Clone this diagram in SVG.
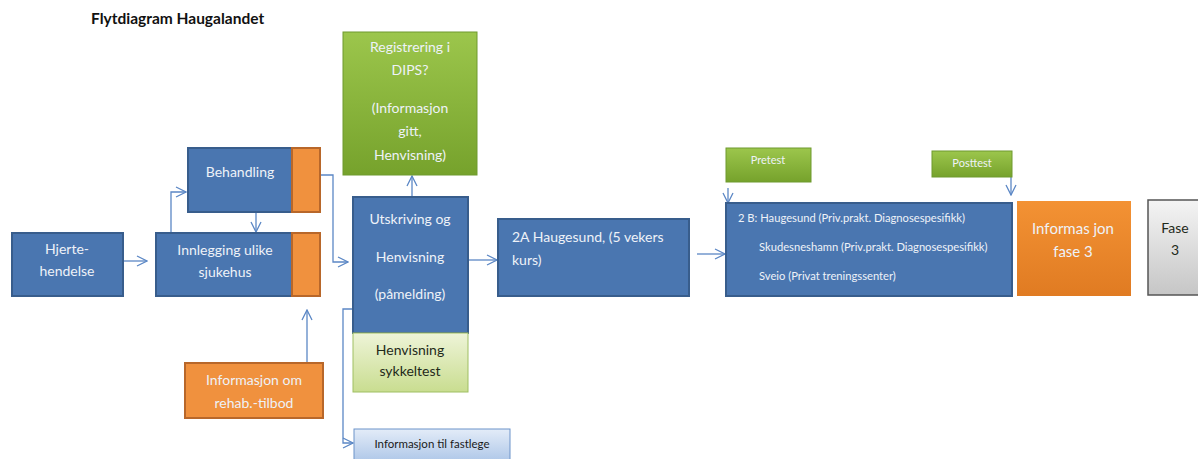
<svg xmlns="http://www.w3.org/2000/svg" width="1198" height="459" viewBox="0 0 1198 459">
<defs>
<linearGradient id="gGreen" x1="0" y1="0" x2="0" y2="1"><stop offset="0" stop-color="#9cc64c"/><stop offset="1" stop-color="#76a22c"/></linearGradient>
<linearGradient id="gLight" x1="0" y1="0" x2="0" y2="1"><stop offset="0" stop-color="#eef4d8"/><stop offset="1" stop-color="#c9dd90"/></linearGradient>
<linearGradient id="gGray" x1="0" y1="0" x2="0" y2="1"><stop offset="0" stop-color="#f4f4f4"/><stop offset="1" stop-color="#c6c6c6"/></linearGradient>
<linearGradient id="gOrange" x1="0" y1="0" x2="0" y2="1"><stop offset="0" stop-color="#f39234"/><stop offset="1" stop-color="#e07b22"/></linearGradient>
<linearGradient id="gPale" x1="0" y1="0" x2="0" y2="1"><stop offset="0" stop-color="#e3ecf8"/><stop offset="1" stop-color="#a9c3e6"/></linearGradient>
<marker id="arr" viewBox="0 0 12 12" refX="11" refY="6" markerWidth="12" markerHeight="12" markerUnits="userSpaceOnUse" orient="auto">
<path d="M1,1 L11,6 L1,11" fill="none" stroke="#5b87c5" stroke-width="1.3"/>
</marker>
</defs>
<style>
.blue{fill:#4a76b0;stroke:#385d8c;stroke-width:2}
.orange{fill:#f0913e;stroke:#b8672a;stroke-width:2}
.t{font-family:Lato,"Open Sans",sans-serif;font-size:14px;fill:#eef2f8;text-anchor:middle}
.ts{font-family:Lato,"Open Sans",sans-serif;font-size:11.2px;fill:#eef2f8}
.td{font-family:Lato,"Open Sans",sans-serif;font-size:14px;fill:#1f2a1a;text-anchor:middle}
.c{fill:none;stroke:#5b87c5;stroke-width:1.3}
</style>
<rect width="1198" height="459" fill="#ffffff"/>
<text x="91" y="24" font-family="Lato,'Open Sans',sans-serif" font-size="15.5" font-weight="bold" fill="#111">Flytdiagram Haugalandet</text>

<g id="connectors">
<path class="c" d="M123,261 H147" marker-end="url(#arr)"/>
<path class="c" d="M171,233 V192 H186" marker-end="url(#arr)"/>
<path class="c" d="M256,212 V232" marker-end="url(#arr)"/>
<path class="c" d="M320,175 H333 V262 H348" marker-end="url(#arr)"/>
<path class="c" d="M307,363 V310" marker-end="url(#arr)"/>
<path class="c" d="M412,197 V176" marker-end="url(#arr)"/>
<path class="c" d="M468,260 H497" marker-end="url(#arr)"/>
<path class="c" d="M353,309 H343 V443 H353" marker-end="url(#arr)"/>
<path class="c" d="M697,254 H725" marker-end="url(#arr)"/>
<path class="c" d="M728,188 V203" marker-end="url(#arr)"/>
<path class="c" d="M1011,177 V195" marker-end="url(#arr)"/>
</g>

<g id="n-hjerte">
<rect class="blue" x="12" y="233" width="111" height="63"/>
<text class="t" x="67" y="254">Hjerte-</text>
<text class="t" x="67" y="276">hendelse</text>
</g>

<g id="n-behandling">
<rect class="blue" x="188" y="148" width="104" height="64"/>
<rect class="orange" x="292" y="148" width="28" height="64"/>
<text class="t" x="240" y="177">Behandling</text>
</g>

<g id="n-innlegging">
<rect class="blue" x="156" y="233" width="136" height="63"/>
<rect class="orange" x="292" y="233" width="28" height="63"/>
<text class="t" x="225" y="255">Innlegging ulike</text>
<text class="t" x="225" y="277">sjukehus</text>
</g>

<g id="n-rehab">
<rect class="orange" x="185" y="363" width="138" height="55"/>
<text class="t" x="254" y="385">Informasjon om</text>
<text class="t" x="254" y="408">rehab.-tilbod</text>
</g>

<g id="n-registrering">
<rect x="343" y="32" width="134" height="143" fill="url(#gGreen)" stroke="#6f9a2e" stroke-width="1"/>
<text class="t" x="410" y="52">Registrering i</text>
<text class="t" x="410" y="75">DIPS?</text>
<text class="t" x="410" y="113">(Informasjon</text>
<text class="t" x="410" y="136">gitt,</text>
<text class="t" x="410" y="160">Henvisning)</text>
</g>

<g id="n-utskriving">
<rect class="blue" x="353" y="197" width="115" height="136"/>
<text class="t" x="410" y="224">Utskriving og</text>
<text class="t" x="410" y="262">Henvisning</text>
<text class="t" x="410" y="299">(påmelding)</text>
</g>

<g id="n-sykkeltest">
<rect x="353" y="333" width="115" height="59" fill="url(#gLight)" stroke="#9fbf62" stroke-width="1"/>
<text class="td" x="410" y="355">Henvisning</text>
<text class="td" x="410" y="376">sykkeltest</text>
</g>

<g id="n-fastlege">
<rect x="354" y="429" width="156" height="36" fill="url(#gPale)" stroke="#6c93c9" stroke-width="1"/>
<text x="432" y="448" font-family="Lato,'Open Sans',sans-serif" font-size="11.5" fill="#1a1a1a" text-anchor="middle">Informasjon til fastlege</text>
</g>

<g id="n-2a">
<rect class="blue" x="498" y="219" width="191" height="77"/>
<text class="t" x="512" y="242" style="text-anchor:start">2A Haugesund,  (5 vekers</text>
<text class="t" x="512" y="265" style="text-anchor:start">kurs)</text>
</g>

<g id="n-pretest">
<rect x="726" y="148" width="85" height="34" fill="url(#gGreen)" stroke="#6f9a2e" stroke-width="1"/>
<text x="768" y="164" font-family="Lato,'Open Sans',sans-serif" font-size="11" fill="#eef2f8" text-anchor="middle">Pretest</text>
</g>

<g id="n-posttest">
<rect x="932" y="151" width="80" height="26" fill="url(#gGreen)" stroke="#6f9a2e" stroke-width="1"/>
<text x="972" y="167" font-family="Lato,'Open Sans',sans-serif" font-size="11" fill="#eef2f8" text-anchor="middle">Posttest</text>
</g>

<g id="n-2b">
<rect class="blue" x="726" y="203" width="286" height="93"/>
<text class="ts" x="738" y="222">2 B: Haugesund  (Priv.prakt. Diagnosespesifikk)</text>
<text class="ts" x="759" y="251">Skudesneshamn (Priv.prakt. Diagnosespesifikk)</text>
<text class="ts" x="759" y="280">Sveio (Privat treningssenter)</text>
</g>

<g id="n-info3">
<rect x="1017" y="201" width="114" height="95" fill="url(#gOrange)"/>
<text class="t" x="1073" y="234" style="font-size:15px">Informas jon</text>
<text class="t" x="1073" y="257" style="font-size:15px">fase 3</text>
</g>

<g id="n-fase3">
<rect x="1148" y="200" width="56" height="95" fill="url(#gGray)" stroke="#555" stroke-width="1.5"/>
<text class="td" x="1175" y="233">Fase</text>
<text class="td" x="1175" y="255">3</text>
</g>
</svg>
